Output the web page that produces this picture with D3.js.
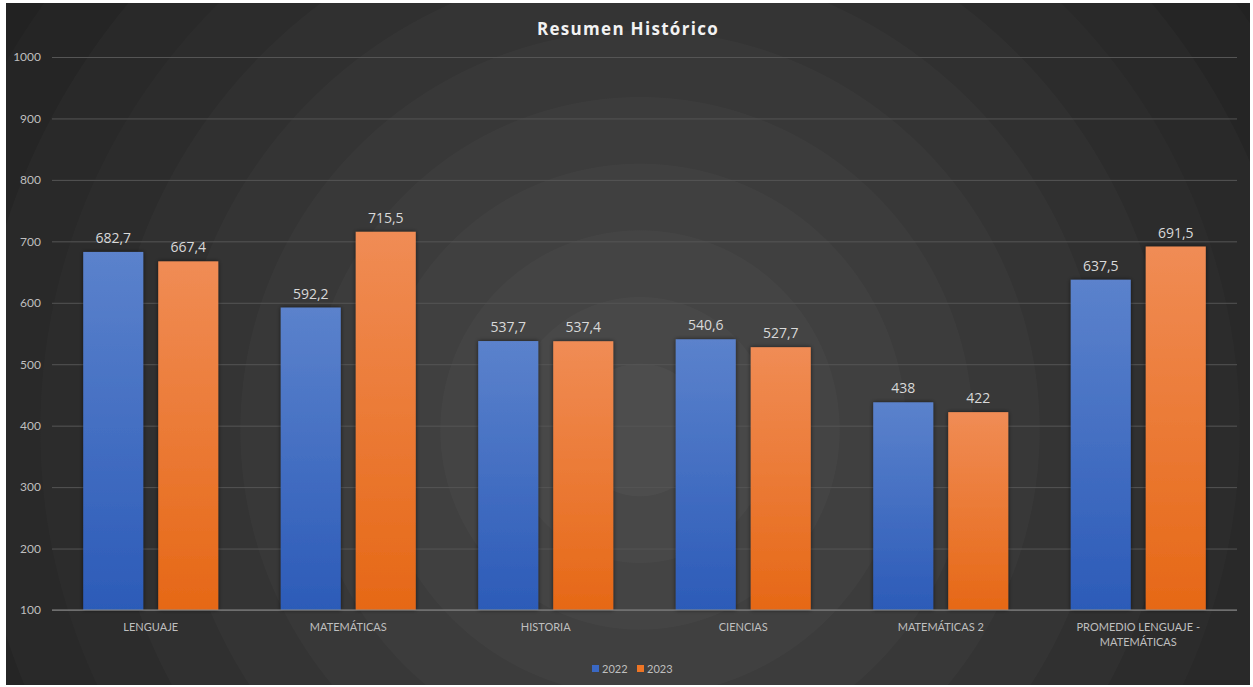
<!DOCTYPE html>
<html><head><meta charset="utf-8">
<script src="https://cdn.jsdelivr.net/npm/d3@7"></script>
<style>html,body{margin:0;padding:0;background:#fff;}svg{display:block;}</style>
</head><body>
<script>
const categories = ["LENGUAJE","MATEMÁTICAS","HISTORIA","CIENCIAS","MATEMÁTICAS 2","PROMEDIO LENGUAJE - MATEMÁTICAS"];
const series = ["2022","2023"];
const values2022 = [682.7, 592.2, 537.7, 540.6, 438, 637.5];
const values2023 = [667.4, 715.5, 537.4, 527.7, 422, 691.5];
const yTicks = [100,200,300,400,500,600,700,800,900,1000];
const colors = {"2022":"#3a68c4","2023":"#ee7525"};

(function(){
const W=1253,H=687;
const svg=d3.select("body").append("svg").attr("width",W).attr("height",H);
const defs=svg.append("defs");
const rg=defs.append("radialGradient").attr("id","bg").attr("gradientUnits","userSpaceOnUse")
  .attr("cx",640).attr("cy",430).attr("r",800);
const nR=12;
for(let i=0;i<nR;i++){
  const t0=i/nR,t1=(i+1)/nR;
  const c=d3.interpolateRgb("#4d4d4d","#1e1e1e")(Math.pow(t0,0.9));
  rg.append("stop").attr("offset",t0).attr("stop-color",c);
  rg.append("stop").attr("offset",t1-0.001).attr("stop-color",c);
}
const bgB=defs.append("linearGradient").attr("id","gb").attr("x1",0).attr("y1",0).attr("x2",0).attr("y2",1);
bgB.append("stop").attr("offset",0).attr("stop-color","#5b82cc");
bgB.append("stop").attr("offset",1).attr("stop-color","#2c5bb8");
const bgO=defs.append("linearGradient").attr("id","go").attr("x1",0).attr("y1",0).attr("x2",0).attr("y2",1);
bgO.append("stop").attr("offset",0).attr("stop-color","#f08c55");
bgO.append("stop").attr("offset",1).attr("stop-color","#e66816");
const sh=defs.append("filter").attr("id","sh").attr("x","-20%").attr("y","-20%").attr("width","140%").attr("height","140%");
sh.append("feDropShadow").attr("dx",0).attr("dy",0).attr("stdDeviation",2).attr("flood-color","#000").attr("flood-opacity",0.6);

svg.append("rect").attr("x",6).attr("y",3).attr("width",1244).attr("height",682).attr("fill","url(#bg)");

const pLeft=52,pRight=1237,pTop=57,pBottom=610;
const y=d3.scaleLinear().domain([100,1000]).range([pBottom,pTop]);
const x0=d3.scaleBand().domain(categories).range([pLeft,pRight]).paddingInner(0).paddingOuter(0);
const groupInner=135;
const x1=d3.scaleBand().domain(series).range([0,groupInner]).paddingInner(0.2);

const yAxis=d3.axisLeft(y).tickValues(yTicks).tickSize(-(pRight-pLeft)).tickFormat(d3.format("d"));
const ga=svg.append("g").attr("transform",`translate(${pLeft},0)`).call(yAxis);
ga.select(".domain").remove();
ga.selectAll(".tick line").attr("stroke","#555").attr("stroke-width",1);
ga.selectAll(".tick text").attr("x",-11).attr("fill","#bfbfbf").attr("font-family","Lato, 'Open Sans', sans-serif").attr("font-size",12);

const data=categories.map((c,i)=>({cat:c,vals:[{s:"2022",v:values2022[i]},{s:"2023",v:values2023[i]}]}));
const g=svg.append("g");
const grp=g.selectAll("g").data(data).join("g")
  .attr("transform",d=>`translate(${x0(d.cat)+(x0.bandwidth()-groupInner)/2},0)`);
grp.selectAll("rect").data(d=>d.vals).join("rect")
  .attr("x",d=>x1(d.s)).attr("width",x1.bandwidth())
  .attr("y",d=>y(d.v)).attr("height",d=>pBottom-y(d.v))
  .attr("fill",d=>d.s==="2022"?"url(#gb)":"url(#go)")
  .attr("filter","url(#sh)");
grp.selectAll("text").data(d=>d.vals).join("text")
  .attr("x",d=>x1(d.s)+x1.bandwidth()/2).attr("y",d=>y(d.v)-9)
  .attr("text-anchor","middle").attr("fill","#d9d9d9")
  .attr("font-family","'Open Sans', sans-serif").attr("font-size",14)
  .text(d=>String(d.v).replace(".",","));

svg.append("line").attr("x1",pLeft).attr("x2",pRight).attr("y1",pBottom).attr("y2",pBottom).attr("stroke","#8a8a8a").attr("stroke-width",1);

const xl=svg.append("g");
categories.forEach(c=>{
  const cx=x0(c)+x0.bandwidth()/2;
  const lines = c==="PROMEDIO LENGUAJE - MATEMÁTICAS" ? ["PROMEDIO LENGUAJE -","MATEMÁTICAS"] : [c];
  lines.forEach((l,k)=>{
    xl.append("text").attr("x",cx).attr("y",631+k*15).attr("text-anchor","middle")
      .attr("fill","#bfbfbf").attr("font-family","Lato, 'Open Sans', sans-serif").attr("font-size",11).text(l);
  });
});

svg.append("text").attr("x",628).attr("y",35).attr("text-anchor","middle").attr("fill","#f2f2f2")
  .attr("font-family","'Open Sans', sans-serif").attr("font-weight","bold").attr("font-size",17)
  .attr("letter-spacing",1.3).text("Resumen Histórico");

const lg=svg.append("g");
const legX=[592,637];
series.forEach((s,i)=>{
  lg.append("rect").attr("x",legX[i]).attr("y",665).attr("width",7).attr("height",7).attr("fill",colors[s]);
  lg.append("text").attr("x",legX[i]+10).attr("y",672.5).attr("fill","#bfbfbf")
    .attr("font-family","Lato, 'Open Sans', sans-serif").attr("font-size",11).text(s);
});
})();
</script>
</body></html>
